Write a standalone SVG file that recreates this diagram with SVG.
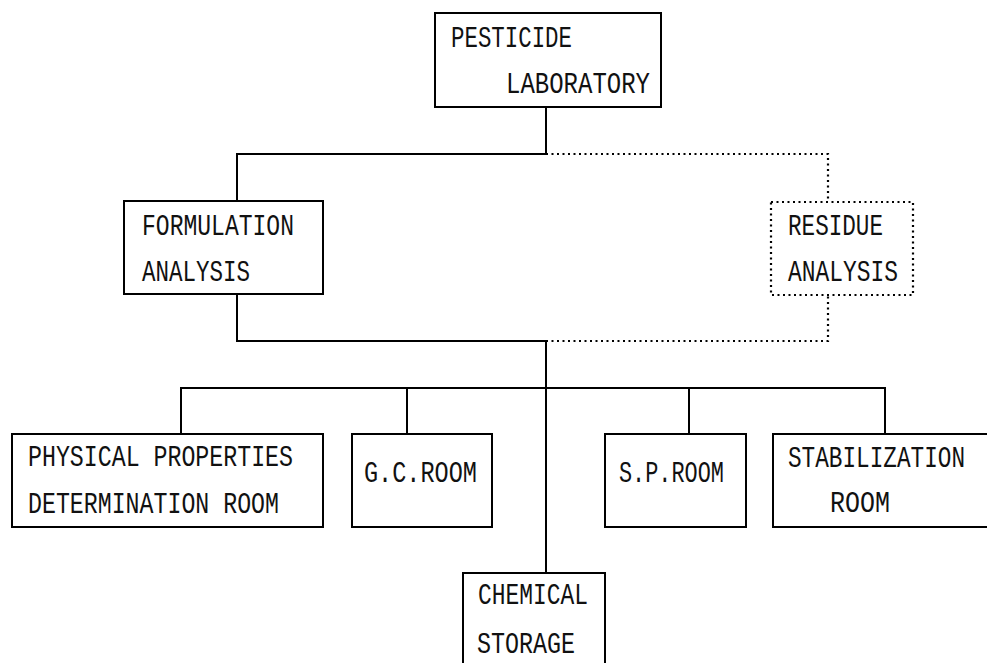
<svg xmlns="http://www.w3.org/2000/svg" width="987" height="663" viewBox="0 0 987 663">
<style>
.box{fill:#fff;stroke:#000;stroke-width:2}
.dbox{fill:#fff;stroke:#000;stroke-width:2.2;stroke-dasharray:2 3.5}
.ln{fill:none;stroke:#000;stroke-width:2}
.dl{fill:none;stroke:#000;stroke-width:2.2;stroke-dasharray:2 3.5}
text{font-family:"Liberation Mono","DejaVu Sans Mono",monospace;font-size:29px;fill:#111}
</style>
<rect width="987" height="663" fill="#fff"/>
<g id="connectors">
<path class="ln" d="M546 107V154H237V201"/>
<path class="dl" d="M546 154H828V202"/>
<path class="ln" d="M237 294V341H546V573"/>
<path class="dl" d="M546 341H828V295"/>
<path class="ln" d="M181 434V388H885V434"/>
<path class="ln" d="M407 388V434"/>
<path class="ln" d="M689 388V434"/>
</g>
<g id="pesticide-laboratory">
<rect class="box" x="435" y="13" width="226" height="94"/>
<text x="451" y="47" textLength="121" lengthAdjust="spacingAndGlyphs">PESTICIDE</text>
<text x="506" y="93" textLength="144" lengthAdjust="spacingAndGlyphs">LABORATORY</text>
</g>
<g id="formulation-analysis">
<rect class="box" x="124" y="201" width="199" height="93"/>
<text x="142" y="235" textLength="152" lengthAdjust="spacingAndGlyphs">FORMULATION</text>
<text x="142" y="281" textLength="108" lengthAdjust="spacingAndGlyphs">ANALYSIS</text>
</g>
<g id="residue-analysis">
<rect class="dbox" x="771" y="202" width="142" height="93"/>
<text x="788" y="235" textLength="95" lengthAdjust="spacingAndGlyphs">RESIDUE</text>
<text x="788" y="281" textLength="110" lengthAdjust="spacingAndGlyphs">ANALYSIS</text>
</g>
<g id="physical-properties">
<rect class="box" x="12" y="434" width="311" height="93"/>
<text x="28" y="466" textLength="265" lengthAdjust="spacingAndGlyphs">PHYSICAL PROPERTIES</text>
<text x="28" y="513" textLength="251" lengthAdjust="spacingAndGlyphs">DETERMINATION ROOM</text>
</g>
<g id="gc-room">
<rect class="box" x="352" y="434" width="140" height="93"/>
<text x="364" y="482" textLength="113" lengthAdjust="spacingAndGlyphs">G.C.ROOM</text>
</g>
<g id="sp-room">
<rect class="box" x="605" y="434" width="141" height="93"/>
<text x="619" y="482" textLength="105" lengthAdjust="spacingAndGlyphs">S.P.ROOM</text>
</g>
<g id="stabilization-room">
<rect class="box" x="773" y="434" width="216" height="93"/>
<text x="788" y="467" textLength="177" lengthAdjust="spacingAndGlyphs">STABILIZATION</text>
<text x="830" y="512" textLength="60" lengthAdjust="spacingAndGlyphs">ROOM</text>
</g>
<g id="chemical-storage">
<rect class="box" x="463" y="573" width="142" height="100"/>
<text x="478" y="604" textLength="110" lengthAdjust="spacingAndGlyphs">CHEMICAL</text>
<text x="477" y="653" textLength="98" lengthAdjust="spacingAndGlyphs">STORAGE</text>
</g>
</svg>
